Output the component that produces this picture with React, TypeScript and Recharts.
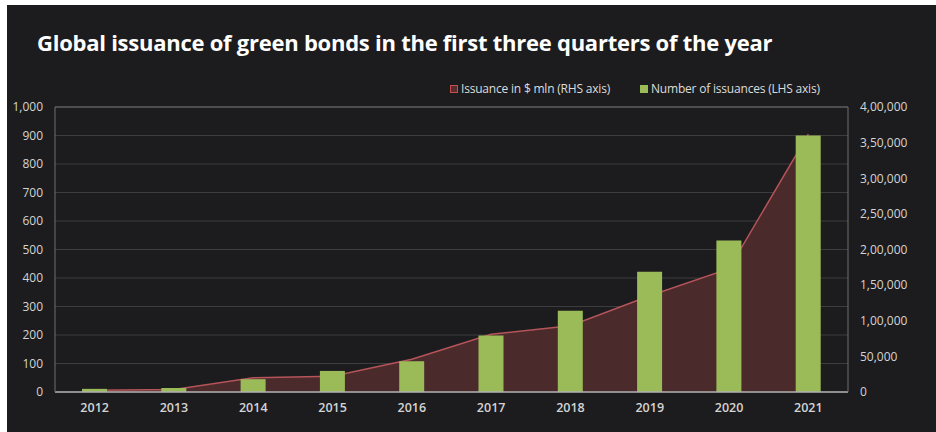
import React from "react";
import { ComposedChart, Area, Bar, XAxis, YAxis, CartesianGrid, ReferenceLine } from "recharts";

const years = ["2012", "2013", "2014", "2015", "2016", "2017", "2018", "2019", "2020", "2021"];
// number of issuances (left axis)
const issuanceCount = [11, 14, 45, 74, 108, 198, 285, 422, 532, 900];
// issuance in $ mln (right axis)
const issuanceAmount = [2500, 3500, 20000, 22000, 46000, 81000, 93000, 135000, 173000, 362000];

const leftTicks = [0, 100, 200, 300, 400, 500, 600, 700, 800, 900, 1000];
const rightTicks = [0, 50000, 100000, 150000, 200000, 250000, 300000, 350000, 400000];

const data = years.map((year, i) => ({
  year,
  count: issuanceCount[i],
  amount: issuanceAmount[i],
}));

// Indian grouping: 4,00,000
const fmtIndian = (v: number) => {
  const s = String(Math.round(v));
  if (s.length <= 3) return s;
  const last3 = s.slice(-3);
  let rest = s.slice(0, -3);
  const parts: string[] = [];
  while (rest.length > 2) {
    parts.unshift(rest.slice(-2));
    rest = rest.slice(0, -2);
  }
  if (rest) parts.unshift(rest);
  return parts.join(",") + "," + last3;
};

const FONT = "'Open Sans', 'Noto Sans', sans-serif";
const tickStyle = { fill: "#d4d4d4", fontSize: 12, fontFamily: FONT };

export default function App() {
  return (
    <div style={{ position: "fixed", left: 0, top: 0, width: 936, height: 432, background: "#ffffff", overflow: "hidden" }}>
      <div style={{ position: "absolute", left: 7, top: 5, width: 929, height: 427, background: "#1c1c1e" }} />
      <div
        style={{
          position: "absolute",
          left: 37,
          top: 27,
          color: "#ffffff",
          fontFamily: FONT,
          fontWeight: 700,
          fontSize: 22,
          letterSpacing: -0.25,
          whiteSpace: "nowrap",
        }}
      >
        Global issuance of green bonds in the first three quarters of the year
      </div>
      <div
        style={{
          position: "absolute",
          left: 450,
          top: 80,
          display: "flex",
          alignItems: "center",
          color: "#dcdcdc",
          fontFamily: FONT,
          fontSize: 12,
          letterSpacing: -0.2,
          whiteSpace: "nowrap",
        }}
      >
        <span style={{ display: "inline-block", width: 6, height: 6, background: "#5a2a2e", border: "1px solid #c0504d", marginRight: 3 }} />
        <span>Issuance in $ mln (RHS axis)</span>
        <span style={{ display: "inline-block", width: 8, height: 8, background: "#9bbb59", marginLeft: 30, marginRight: 3 }} />
        <span>Number of issuances (LHS axis)</span>
      </div>
      <div style={{ position: "absolute", left: 0, top: 0 }}>
        <ComposedChart width={936} height={432} data={data} margin={{ top: 107, right: 0, bottom: 0, left: 0 }}>
          <CartesianGrid yAxisId="left" vertical={false} stroke="#3d3d3f" />
          <XAxis
            dataKey="year"
            tick={{ ...tickStyle, fontSize: 12.5, fontWeight: 600 }}
            tickLine={false}
            tickSize={0}
            tickMargin={11}
            axisLine={{ stroke: "#b0b0b0", strokeWidth: 1.5 }}
            height={40}
          />
          <YAxis
            yAxisId="left"
            domain={[0, 1000]}
            ticks={leftTicks}
            tickFormatter={fmtIndian}
            tick={tickStyle}
            tickLine={false}
            tickSize={0}
            tickMargin={12}
            axisLine={{ stroke: "#6e6e70" }}
            width={55}
            interval={0}
          />
          <YAxis
            yAxisId="right"
            orientation="right"
            domain={[0, 400000]}
            ticks={rightTicks}
            tickFormatter={fmtIndian}
            tick={tickStyle}
            tickLine={false}
            tickSize={0}
            tickMargin={12}
            axisLine={{ stroke: "#6e6e70" }}
            width={88}
            interval={0}
          />
          <ReferenceLine yAxisId="left" y={1000} stroke="#6e6e70" />
          <Area
            yAxisId="right"
            type="linear"
            dataKey="amount"
            stroke="#b5545a"
            strokeWidth={1.5}
            fill="#4b2a2b"
            fillOpacity={1}
            isAnimationActive={false}
          />
          <Bar yAxisId="left" dataKey="count" fill="#9bbb59" barSize={25} isAnimationActive={false} />
        </ComposedChart>
      </div>
    </div>
  );
}
